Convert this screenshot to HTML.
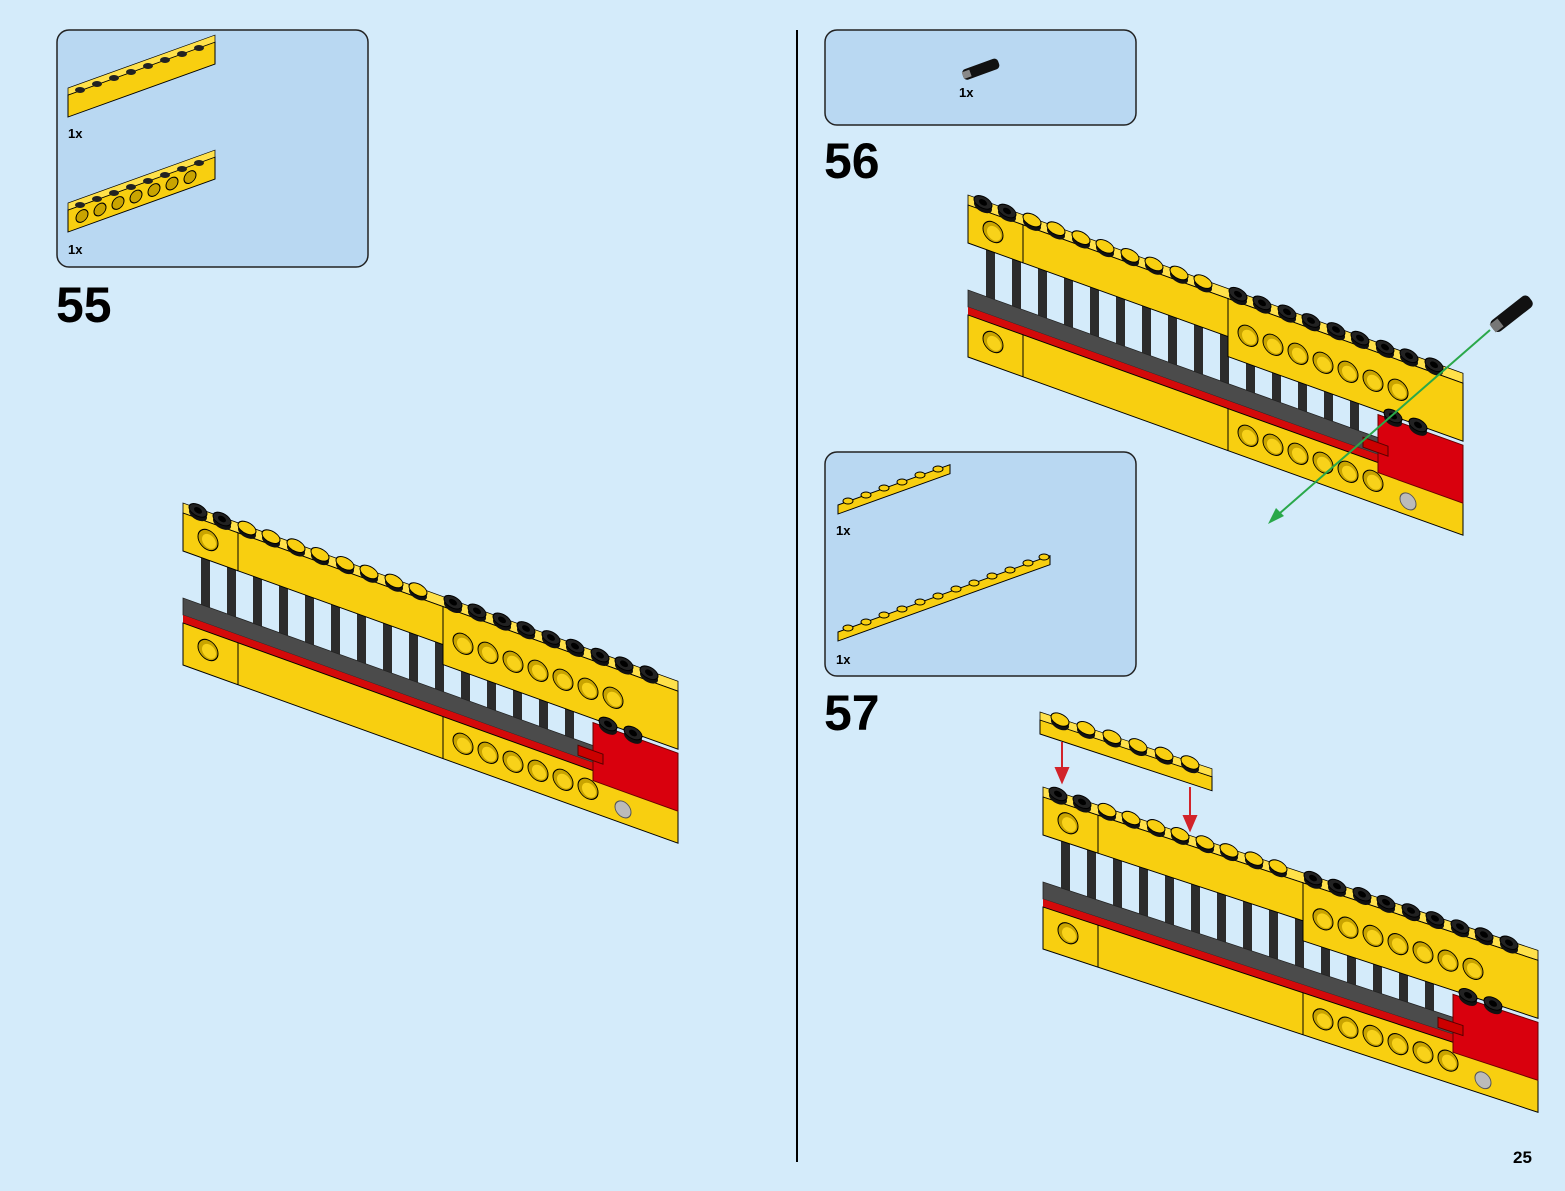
<!DOCTYPE html>
<html><head><meta charset="utf-8"><style>
html,body{margin:0;padding:0;background:#d4ebfa;}
svg{display:block;}
text{font-family:"Liberation Sans",sans-serif;font-weight:bold;fill:#000;}
</style></head><body>
<svg width="1565" height="1191" viewBox="0 0 1565 1191" xmlns="http://www.w3.org/2000/svg">
<defs>
<g id="sd"><ellipse cx="0" cy="2" rx="9" ry="6" fill="#111"/><ellipse cx="0" cy="-2" rx="9" ry="6" fill="#222" stroke="#000"/><ellipse cx="0" cy="-2" rx="4" ry="3" fill="#000"/></g>
<g id="sy"><ellipse cx="0" cy="2" rx="9" ry="6" fill="#111"/><ellipse cx="0" cy="-2" rx="9" ry="6" fill="#f8cf10" stroke="#000"/></g>
<g id="h"><circle r="10" fill="#c9a400" stroke="#000"/><circle cx="1" cy="1" r="7" fill="#f8d21a"/></g>
<g id="m">
<rect x="0" y="-10" width="495" height="10" fill="#ffe14a" stroke="#000" stroke-width="0.8"/>
<g fill="#2c2c2c">
<rect x="18" y="35" width="9" height="55"/><rect x="44" y="35" width="9" height="55"/><rect x="70" y="35" width="9" height="55"/><rect x="96" y="35" width="9" height="55"/><rect x="122" y="35" width="9" height="55"/><rect x="148" y="35" width="9" height="55"/><rect x="174" y="35" width="9" height="55"/><rect x="200" y="35" width="9" height="55"/><rect x="226" y="35" width="9" height="55"/><rect x="252" y="35" width="9" height="55"/><rect x="278" y="35" width="9" height="55"/><rect x="304" y="35" width="9" height="55"/><rect x="330" y="35" width="9" height="55"/><rect x="356" y="35" width="9" height="55"/><rect x="382" y="35" width="9" height="55"/>
</g>
<rect x="0" y="85" width="495" height="17" fill="#4b4b4b" stroke="#222" stroke-width="0.8"/>
<rect x="0" y="102" width="495" height="8" fill="#d40a0a"/>
<rect x="0" y="110" width="495" height="42" fill="#f8cf10" stroke="#000" stroke-width="1"/>
<line x1="55" y1="110" x2="55" y2="152" stroke="#000"/><line x1="260" y1="110" x2="260" y2="152" stroke="#000"/>
<rect x="0" y="0" width="55" height="38" fill="#f8cf10" stroke="#000"/>
<rect x="55" y="0" width="205" height="38" fill="#f8cf10" stroke="#000"/>
<rect x="260" y="0" width="235" height="58" fill="#f8cf10" stroke="#000"/>
<use href="#h" x="25" y="18"/><use href="#h" x="25" y="128"/>
<use href="#h" x="280" y="30"/><use href="#h" x="305" y="30"/><use href="#h" x="330" y="30"/><use href="#h" x="355" y="30"/><use href="#h" x="380" y="30"/><use href="#h" x="405" y="30"/><use href="#h" x="430" y="30"/>
<use href="#h" x="280" y="130"/><use href="#h" x="305" y="130"/><use href="#h" x="330" y="130"/><use href="#h" x="355" y="130"/><use href="#h" x="380" y="130"/><use href="#h" x="405" y="130"/>
<circle cx="440" cy="138" r="8" fill="#bbb" stroke="#555"/>
<rect x="410" y="62" width="85" height="58" fill="#d9000d" stroke="#600"/>
<rect x="395" y="90" width="25" height="10" fill="#c00" stroke="#500"/>
<use href="#sd" x="425" y="60"/><use href="#sd" x="450" y="60"/>
<use href="#sd" x="15" y="-6"/><use href="#sd" x="39" y="-6"/>
<use href="#sy" x="64" y="-6"/><use href="#sy" x="88" y="-6"/><use href="#sy" x="113" y="-6"/><use href="#sy" x="137" y="-6"/><use href="#sy" x="162" y="-6"/><use href="#sy" x="186" y="-6"/><use href="#sy" x="211" y="-6"/><use href="#sy" x="235" y="-6"/>
<use href="#sd" x="270" y="-6"/><use href="#sd" x="294" y="-6"/><use href="#sd" x="319" y="-6"/><use href="#sd" x="343" y="-6"/><use href="#sd" x="368" y="-6"/><use href="#sd" x="392" y="-6"/><use href="#sd" x="417" y="-6"/><use href="#sd" x="441" y="-6"/><use href="#sd" x="466" y="-6"/>
</g>
</defs>

<line x1="797" y1="30" x2="797" y2="1162" stroke="#000" stroke-width="2"/>

<rect x="57" y="30" width="311" height="237" rx="12" fill="#b9d8f2" stroke="#222" stroke-width="1.5"/>
<g transform="matrix(1,-0.36,0,1,68,95)">
<rect x="0" y="0" width="147" height="22" fill="#f8cf10" stroke="#000"/>
<rect x="0" y="-7" width="147" height="7" fill="#ffe14a" stroke="#000" stroke-width="0.7"/>
</g>
<g transform="matrix(1,-0.36,0,1,68,210)">
<rect x="0" y="0" width="147" height="22" fill="#f8cf10" stroke="#000"/>
<rect x="0" y="-7" width="147" height="7" fill="#ffe14a" stroke="#000" stroke-width="0.7"/>
<g fill="#c9a400" stroke="#000"><circle cx="14" cy="11" r="6"/><circle cx="32" cy="11" r="6"/><circle cx="50" cy="11" r="6"/><circle cx="68" cy="11" r="6"/><circle cx="86" cy="11" r="6"/><circle cx="104" cy="11" r="6"/><circle cx="122" cy="11" r="6"/></g>
</g>
<g fill="#222"><ellipse cx="80" cy="90" rx="5" ry="3"/><ellipse cx="97" cy="84" rx="5" ry="3"/><ellipse cx="114" cy="78" rx="5" ry="3"/><ellipse cx="131" cy="72" rx="5" ry="3"/><ellipse cx="148" cy="66" rx="5" ry="3"/><ellipse cx="165" cy="60" rx="5" ry="3"/><ellipse cx="182" cy="54" rx="5" ry="3"/><ellipse cx="199" cy="48" rx="5" ry="3"/>
<ellipse cx="80" cy="205" rx="5" ry="3"/><ellipse cx="97" cy="199" rx="5" ry="3"/><ellipse cx="114" cy="193" rx="5" ry="3"/><ellipse cx="131" cy="187" rx="5" ry="3"/><ellipse cx="148" cy="181" rx="5" ry="3"/><ellipse cx="165" cy="175" rx="5" ry="3"/><ellipse cx="182" cy="169" rx="5" ry="3"/><ellipse cx="199" cy="163" rx="5" ry="3"/></g>
<text x="68" y="138" font-size="13">1x</text>
<text x="68" y="254" font-size="13">1x</text>
<text x="56" y="322" font-size="50">55</text>

<use href="#m" transform="matrix(1,0.36,0,1,183,513)"/>

<rect x="825" y="30" width="311" height="95" rx="12" fill="#b9d8f2" stroke="#222" stroke-width="1.5"/>
<g transform="rotate(-20 980 70)"><rect x="962" y="64" width="38" height="11" rx="4" fill="#111"/><rect x="962" y="66" width="8" height="7" fill="#888"/></g>
<text x="959" y="97" font-size="13">1x</text>
<text x="824" y="178" font-size="50">56</text>
<use href="#m" transform="matrix(1,0.36,0,1,968,205)"/>
<line x1="1490" y1="330" x2="1272" y2="520" stroke="#2aa84a" stroke-width="2"/>
<polygon points="1268,524 1276,508 1284,516" fill="#2aa84a"/>
<g transform="rotate(-38 1510 315)"><rect x="1488" y="308" width="48" height="14" rx="5" fill="#111"/><rect x="1488" y="310" width="10" height="10" fill="#777"/></g>

<rect x="825" y="452" width="311" height="224" rx="12" fill="#b9d8f2" stroke="#222" stroke-width="1.5"/>
<g transform="matrix(1,-0.36,0,1,838,505)"><rect x="0" y="0" width="112" height="9" fill="#f8cf10" stroke="#000"/></g>
<g fill="#f8cf10" stroke="#000"><ellipse cx="848" cy="501" rx="5" ry="3"/><ellipse cx="866" cy="495" rx="5" ry="3"/><ellipse cx="884" cy="488" rx="5" ry="3"/><ellipse cx="902" cy="482" rx="5" ry="3"/><ellipse cx="920" cy="475" rx="5" ry="3"/><ellipse cx="938" cy="469" rx="5" ry="3"/></g>
<g transform="matrix(1,-0.36,0,1,838,632)"><rect x="0" y="0" width="212" height="9" fill="#f8cf10" stroke="#000"/></g>
<g fill="#f8cf10" stroke="#000"><ellipse cx="848" cy="628" rx="5" ry="3"/><ellipse cx="866" cy="622" rx="5" ry="3"/><ellipse cx="884" cy="615" rx="5" ry="3"/><ellipse cx="902" cy="609" rx="5" ry="3"/><ellipse cx="920" cy="602" rx="5" ry="3"/><ellipse cx="938" cy="596" rx="5" ry="3"/><ellipse cx="956" cy="589" rx="5" ry="3"/><ellipse cx="974" cy="583" rx="5" ry="3"/><ellipse cx="992" cy="576" rx="5" ry="3"/><ellipse cx="1010" cy="570" rx="5" ry="3"/><ellipse cx="1028" cy="563" rx="5" ry="3"/><ellipse cx="1044" cy="557" rx="5" ry="3"/></g>
<text x="836" y="535" font-size="13">1x</text>
<text x="836" y="664" font-size="13">1x</text>
<text x="824" y="730" font-size="50">57</text>
<use href="#m" transform="matrix(1,0.33,0,1,1043,797)"/>
<g transform="matrix(1,0.33,0,1,1040,720)">
<rect x="0" y="0" width="172" height="14" fill="#f8cf10" stroke="#000"/>
<rect x="0" y="-8" width="172" height="8" fill="#ffe14a" stroke="#000" stroke-width="0.7"/>
<use href="#sy" x="20" y="-5"/><use href="#sy" x="46" y="-5"/><use href="#sy" x="72" y="-5"/><use href="#sy" x="98" y="-5"/><use href="#sy" x="124" y="-5"/><use href="#sy" x="150" y="-5"/>
</g>
<g stroke="#d2232a" stroke-width="2" fill="#d2232a">
<line x1="1062" y1="742" x2="1062" y2="775"/><polygon points="1056,768 1068,768 1062,782"/>
<line x1="1190" y1="787" x2="1190" y2="823"/><polygon points="1184,816 1196,816 1190,830"/>
</g>
<text x="1513" y="1163" font-size="17">25</text>
</svg>
</body></html>
